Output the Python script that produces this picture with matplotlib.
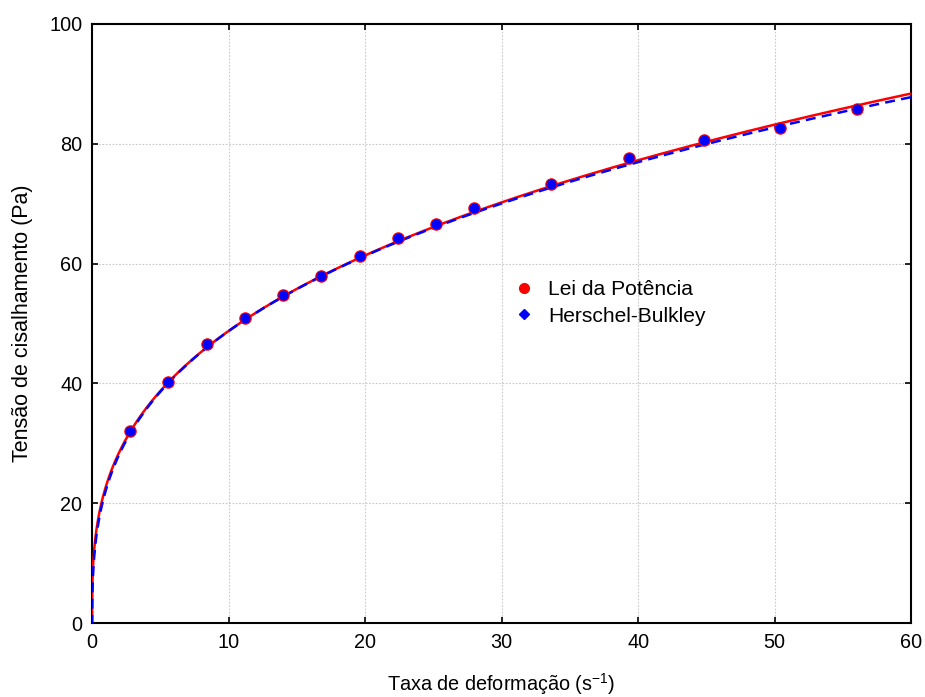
import numpy as np
import matplotlib
matplotlib.use("Agg")
import matplotlib.pyplot as plt
from matplotlib.lines import Line2D

plt.rcParams['font.family'] = ['Liberation Sans', 'DejaVu Sans']

# Experimental data
shear_rate = [2.8, 5.6, 8.4, 11.2, 14.0, 16.8, 19.6, 22.4, 25.2, 28.0, 33.6, 39.3, 44.8, 50.4, 56.0]
shear_stress = [32.0, 40.3, 46.6, 51.0, 54.7, 58.0, 61.3, 64.3, 66.6, 69.3, 73.3, 77.6, 80.7, 82.7, 85.8]

# Model parameters
pl_K, pl_n = 22.7, 0.332          # Lei da Potência
hb_tau0, hb_K, hb_n = -3.0, 25.1, 0.314   # Herschel-Bulkley

x_ticks = [0, 10, 20, 30, 40, 50, 60]
y_ticks = [0, 20, 40, 60, 80, 100]
legend_labels = ["Lei da Potência", "Herschel-Bulkley"]

fs = 14.3

fig = plt.figure(figsize=(9.25, 6.97), dpi=100)
ax = fig.add_axes([0.0995, 0.106, 0.8855, 0.8597])

g = np.linspace(0, 60, 3000)
ax.plot(g, pl_K * g ** pl_n, color='red', lw=1.8, zorder=3)
ax.plot(g, hb_tau0 + hb_K * g ** hb_n, color='blue', lw=1.8, ls=(0, (4, 2.5)), zorder=4)

ax.plot(shear_rate, shear_stress, 'o', color='red', ms=8, zorder=5, mec='red')
ax.plot(shear_rate, shear_stress, 'o', color='blue', ms=6.3, zorder=6, mec='blue')

ax.set_xlim(0, 60)
ax.set_ylim(0, 100)
ax.set_xticks(x_ticks)
ax.set_yticks(y_ticks)
ax.grid(True, color='#c8c8c8', ls=(0, (1.5, 1.5)), lw=0.8)
ax.set_axisbelow(True)
ax.tick_params(direction='in', top=True, right=True, labelsize=fs, length=4, width=1.2, pad=7)
for s in ax.spines.values():
    s.set_linewidth(1.5)

ax.set_xlabel("Taxa de deformação (s$^{\\mathregular{-1}}$)", fontsize=fs, labelpad=14)
ax.set_ylabel("Tensão de cisalhamento (Pa)", fontsize=fs + 1.2, labelpad=12)

handles = [Line2D([], [], marker='o', ls='none', color='red', ms=7),
           Line2D([], [], marker='D', ls='none', color='blue', ms=5)]
fig.legend(handles, legend_labels, loc='upper left', bbox_to_anchor=(0.535, 0.625),
           frameon=False, fontsize=fs + 0.8, handletextpad=0.65, labelspacing=0.35, handlelength=1.0)

fig.savefig("out.png", dpi=100)
